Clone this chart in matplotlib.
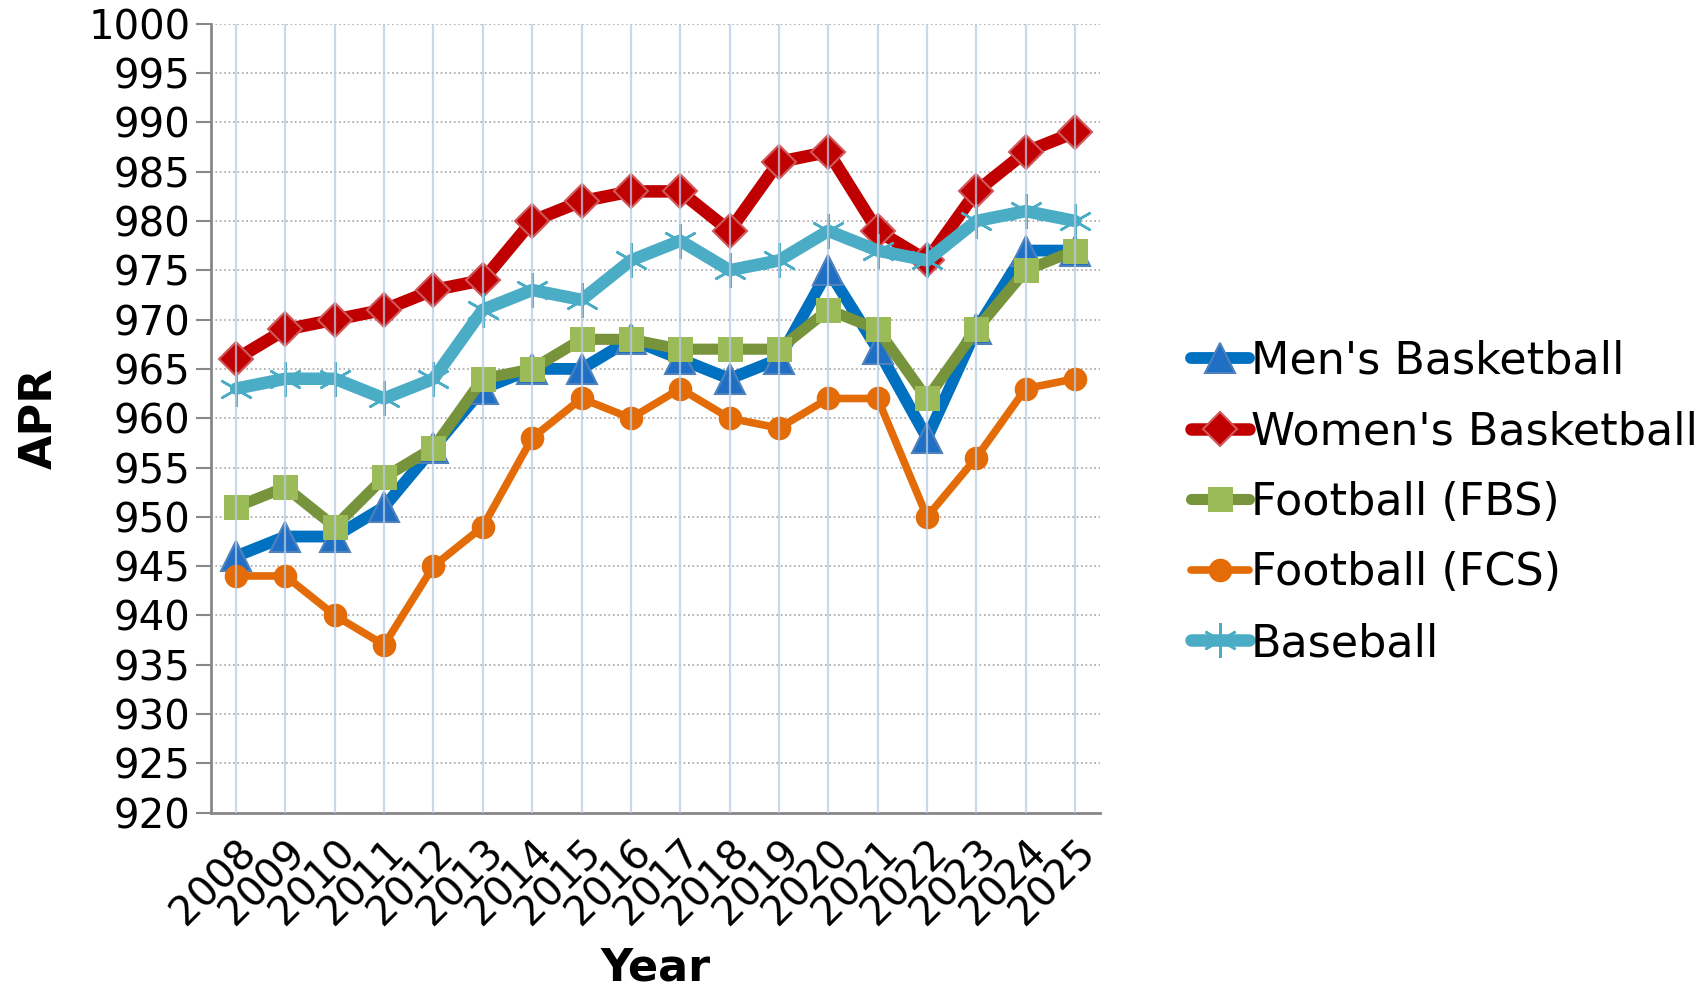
import matplotlib.pyplot as plt
import numpy as np

years = [str(y) for y in range(2008, 2026)]

mens_bb = [946, 948, 948, 951, 957, 963, 965, 965, 968, 966, 964, 966, 975, 967, 958, 969, 977, 977]
womens_bb = [966, 969, 970, 971, 973, 974, 980, 982, 983, 983, 979, 986, 987, 979, 976, 983, 987, 989]
football_fbs = [951, 953, 949, 954, 957, 964, 965, 968, 968, 967, 967, 967, 971, 969, 962, 969, 975, 977]
football_fcs = [944, 944, 940, 937, 945, 949, 958, 962, 960, 963, 960, 959, 962, 962, 950, 956, 963, 964]
baseball = [963, 964, 964, 962, 964, 971, 973, 972, 976, 978, 975, 976, 979, 977, 976, 980, 981, 980]

yticks = list(range(920, 1001, 5))

plt.rcParams['font.family'] = ['DejaVu Sans']

fig = plt.figure(figsize=(17.05, 9.91), dpi=100)
ax = fig.add_axes([0.124, 0.180, 0.521, 0.796])
x = np.arange(len(years))

ax.plot(x, mens_bb, color='#0070c0', lw=8.5, marker='^', ms=21,
        mfc='#1f6fc4', mec='#4f81bd', mew=1.5, label="Men's Basketball", zorder=3,
        solid_capstyle='round')
ax.plot(x, womens_bb, color='#c00000', lw=9, marker='D', ms=17,
        mfc='#c00000', mec='#d0585a', mew=1.5, label="Women's Basketball", zorder=3,
        solid_capstyle='round')
ax.plot(x, football_fbs, color='#77933c', lw=8, marker='s', ms=18,
        mfc='#9bbb59', mec='#9bbb59', mew=0, label='Football (FBS)', zorder=4,
        solid_capstyle='round')
ax.plot(x, football_fcs, color='#e36c09', lw=5.5, marker='o', ms=17,
        mfc='#e36c09', mec='#e36c09', mew=0, label='Football (FCS)', zorder=4,
        solid_capstyle='round')
ax.plot(x, baseball, color='#4bacc6', lw=9, marker=(6, 2, 0), ms=25,
        mfc='#4bacc6', mec='#4bacc6', mew=1.8, label='Baseball', zorder=5,
        solid_capstyle='round')

# vertical grid drawn over the lines, like the original
for xi in x:
    ax.axvline(xi, color='#b8cce4', lw=1.6, alpha=0.75, zorder=10)
ax.grid(axis='y', color='#a6a6a6', linestyle=':', lw=1.2, zorder=0)

ax.set_xlim(-0.5, len(years) - 0.5)
ax.set_ylim(920, 1000)
ax.set_yticks(yticks)
ax.set_xticks(x)
ax.set_xticklabels(years, rotation=45, ha='right', rotation_mode='anchor', fontsize=29)
ax.tick_params(axis='y', labelsize=29, length=11, width=1.5, color='#888888', pad=4)
ax.tick_params(axis='x', length=0, pad=14)

for s in ['top', 'right']:
    ax.spines[s].set_visible(False)
for s in ['left', 'bottom']:
    ax.spines[s].set_color('#888888')
    ax.spines[s].set_linewidth(2)

ax.set_ylabel('APR', fontsize=32, fontweight='heavy', labelpad=20)
ax.set_xlabel('Year', fontsize=32, fontweight='heavy', labelpad=10)

leg = fig.legend(loc='center left', bbox_to_anchor=(0.688, 0.493), frameon=False,
                 fontsize=32, handlelength=1.3, handletextpad=0.05, labelspacing=0.62,
                 borderaxespad=0)

fig.savefig('out.png', dpi=100)
